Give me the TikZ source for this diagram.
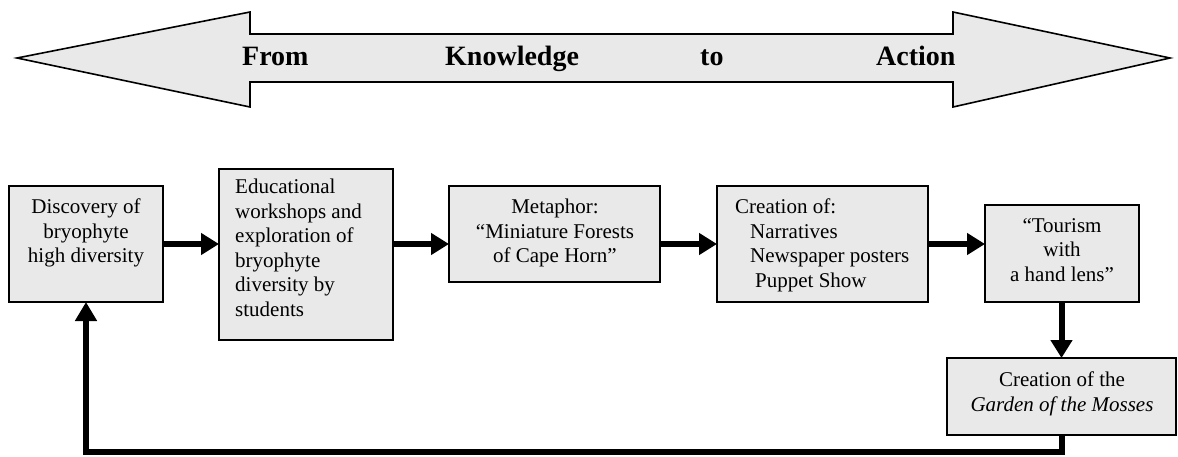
\documentclass[tikz,border=0pt]{standalone}
\usepackage{fontspec}
\setmainfont{Liberation Serif}
\usetikzlibrary{arrows.meta}
\definecolor{boxgray}{RGB}{233,233,233}
\tikzset{
  box/.style={draw, line width=1.6pt, fill=boxgray, inner sep=0pt, outer sep=0pt, anchor=north west},
  txt/.style={inner sep=0pt, font=\fontsize{21}{24.5}\selectfont},
  bannertxt/.style={inner sep=0pt, anchor=base west, font=\fontsize{28}{30}\selectfont\bfseries},
  flow/.style={line width=6pt, -{Triangle[length=18pt,width=21pt]}},
  backloop/.style={line width=6pt, line join=miter, -{Triangle[length=19pt,width=21pt]}},
}
\begin{document}
\begin{tikzpicture}[x=1pt,y=-1pt]
\useasboundingbox (0,0) rectangle (1178,456);
% banner arrow
\draw[line width=1.6pt, fill=boxgray, line join=miter]
  (17,58) -- (250,12) -- (250,34) -- (953,34) -- (953,12) -- (1170,58)
  -- (953,107) -- (953,82) -- (250,82) -- (250,107) -- cycle;
\node[bannertxt] (from) at (242,65) {From};
\node[bannertxt] (know) at (445,65) {Knowledge};
\node[bannertxt] (to) at (700,65) {to};
\node[bannertxt] (act) at (876,65) {Action};
% boxes
\node[box, minimum width=154pt, minimum height=116pt] (b1) at (9,186) {};
\node[box, minimum width=174pt, minimum height=171pt] (b2) at (219,169) {};
\node[box, minimum width=211pt, minimum height=96pt] (b3) at (449,186) {};
\node[box, minimum width=211pt, minimum height=116pt] (b4) at (717,186) {};
\node[box, minimum width=154pt, minimum height=97pt] (b5) at (985,205) {};
\node[box, minimum width=229pt, minimum height=77pt] (b6) at (947,358) {};
% texts
\node[txt, anchor=north, align=center] (t1) at (86,199) {Discovery of\\bryophyte\\high diversity};
\node[txt, anchor=north west, align=left] (t2) at (235,179) {Educational\\workshops and\\exploration of\\bryophyte\\diversity by\\students};
\node[txt, anchor=north, align=center] (t3) at (555,199) {Metaphor:\\“Miniature Forests\\of Cape Horn”};
\node[txt, anchor=north west, align=left] (t4) at (735,199) {Creation of:\\\hspace*{15pt}Narratives\\\hspace*{15pt}Newspaper posters\\\hspace*{20pt}Puppet Show};
\node[txt, anchor=north, align=center] (t5) at (1062,218) {“Tourism\\with\\a hand lens”};
\node[txt, anchor=north, align=center] (t6) at (1062,372) {Creation of the\\\textit{Garden of the Mosses}};
% connectors
\draw[flow] (b1.east) -- (b1.east -| b2.west);
\draw[flow] (b2.east |- b1.east) -- (b3.west |- b1.east);
\draw[flow] (b3.east |- b1.east) -- (b4.west |- b1.east);
\draw[flow] (b4.east |- b1.east) -- (b5.west |- b1.east);
\draw[flow] (b5.south -| b6.north) -- (b6.north);
\coordinate (lp) at (0,452);
\draw[backloop] (b6.south) -- (b6.south |- lp) -| (b1.south);
\end{tikzpicture}
\end{document}
